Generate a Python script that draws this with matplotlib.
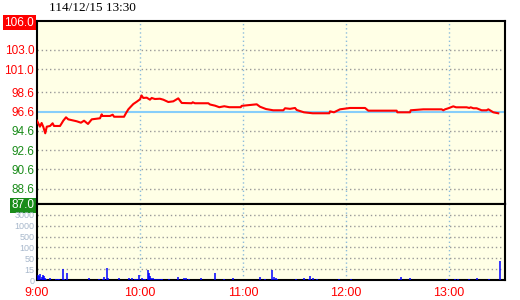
import matplotlib
matplotlib.use("Agg")
import matplotlib.pyplot as plt
import numpy as np

# minutes after 9:00 and price
price_min = [0, 1.7, 2.7, 3.7, 4.8, 5.7, 7.6, 9.1, 9.9, 13.4, 14.4, 15.3, 16.9, 18.2,
             23.1, 25.6, 27.4, 29.7, 31.9, 36.7, 37.7, 38.0, 42.5, 44.1, 44.9, 50.7,
             51.8, 53.2, 54.6, 56.1, 58.1, 60.0, 60.9, 61.9, 63.9, 65.8, 66.8, 68.7,
             71.6, 73.6, 76.5, 79.4, 82.3, 84.3, 90.1, 90.7, 92.0, 99.8, 100.8, 103.7,
             106.2, 109.1, 112.0, 118.7, 119.2, 124.1, 128.0, 129.9, 133.4, 137.6,
             143.5, 144.5, 147.4, 150.3, 151.3, 155.5, 160.6, 170.3, 170.7, 173.0,
             174.9, 176.5, 182.3, 191.1, 193.0, 209.5, 209.9, 217.3, 217.7, 225.0,
             235.7, 236.7, 237.7, 239.6, 242.5, 244.1, 250.3, 251.8, 252.6, 254.2,
             256.1, 259.0, 261.9, 262.9, 264.9, 265.8, 268.7]
price_val = [95.65, 95.03, 95.41, 94.99, 94.34, 95.03, 95.10, 95.38, 95.10, 95.10, 95.38,
             95.65, 96.00, 95.79, 95.59, 95.44, 95.65, 95.31, 95.79, 95.90, 96.31, 96.14,
             96.14, 96.27, 96.06, 96.06, 96.42, 96.83, 97.10, 97.38, 97.62, 97.87, 98.27,
             98.01, 98.04, 97.83, 98.01, 97.90, 97.93, 97.83, 97.59, 97.66, 97.97, 97.49,
             97.46, 97.56, 97.46, 97.46, 97.33, 97.21, 97.05, 97.15, 97.05, 97.05, 97.19,
             97.28, 97.35, 97.10, 96.86, 96.73, 96.73, 96.94, 96.88, 96.97, 96.76, 96.52,
             96.42, 96.42, 96.62, 96.52, 96.69, 96.83, 96.97, 96.97, 96.69, 96.69, 96.52,
             96.52, 96.73, 96.83, 96.83, 96.73, 96.83, 96.94, 97.14, 97.04, 97.04, 96.97,
             97.04, 96.94, 96.94, 96.73, 96.73, 96.83, 96.62, 96.52, 96.42]

vol_min = [0.6, 1.2, 1.9, 2.9, 3.5, 4.1, 4.7, 5.4, 7.7, 11.1, 12.2, 13.0, 15.3, 15.9,
           17.7, 30.1, 36.1, 38.2, 39.2, 40.6, 41.2, 47.8, 53.6, 55.4, 57.0, 58.0, 59.6,
           61.1, 62.3, 63.0, 64.5, 65.0, 65.6, 66.2, 67.4, 68.5, 69.8, 70.9, 72.0, 73.0,
           77.0, 82.1, 85.8, 86.8, 88.7, 95.6, 103.8, 109.0, 114.3, 129.9, 133.0, 137.1,
           137.9, 139.0, 139.6, 150.9, 155.6, 158.6, 159.2, 161.0, 162.9, 176.1, 182.7,
           210.9, 212.2, 217.5, 239.0, 243.5, 245.3, 251.8, 256.3, 263.5, 269.9]
vol_val = [7, 5, 8, 4, 7, 5, 3, 1, 3, 1, 1, 1, 16, 1, 10, 3, 1, 1, 4, 18, 3, 3, 3, 3, 1,
           1, 7, 3, 1, 1, 14, 10, 6, 3, 3, 1, 1, 1, 1, 1, 1, 4, 3, 3, 1, 3, 10, 1, 3, 4,
           1, 14, 4, 3, 1, 1, 3, 1, 6, 3, 1, 1, 1, 1, 4, 3, 1, 1, 1, 1, 3, 1, 41]

price_ticks = [106.0, 103.0, 101.0, 98.6, 96.6, 94.6, 92.6, 90.6, 88.6, 87.0]
ref_price = 96.6
vol_levels = [0, 15, 50, 100, 500, 1000, 3000]
time_ticks = [0, 60, 120, 180, 240]
time_labels = ["9:00", "10:00", "11:00", "12:00", "13:00"]

W, H = 520, 300
bg = "#ffffe6"
red = "#ff0000"
green = "#1a8c1a"
grid_blue = "#8cbcdc"

fig = plt.figure(figsize=(W / 100, H / 100), dpi=100)
fig.patch.set_facecolor("white")

L, R = 37 / W, 505 / W
ax = fig.add_axes([L, (H - 204) / H, R - L, (204 - 21) / H])
axv = fig.add_axes([L, (H - 280) / H, R - L, (280 - 204) / H], sharex=ax)

xmax = (505 - 37) / 103 * 60
for a in (ax, axv):
    a.set_facecolor(bg)
    a.set_xlim(0, xmax)
    for s in a.spines.values():
        s.set_color("black")
        s.set_linewidth(1.5)
    a.tick_params(length=0)
    for t in time_ticks[1:]:
        a.axvline(t, color=grid_blue, ls=(0, (1, 2)), lw=1, zorder=1)

# price panel
ax.set_ylim(87, 106)
for p in price_ticks[1:-1]:
    if p != ref_price:
        ax.axhline(p, color="#999999", ls=(0, (1, 2)), lw=1, zorder=1)
ax.axhline(ref_price, color="#87cefa", lw=1.5, zorder=2)
ax.plot(price_min, price_val, color=red, lw=1.5, zorder=3)

ax.set_yticks(price_ticks)
ax.set_yticklabels(["%.1f" % p for p in price_ticks], family="Liberation Sans", fontsize=8.5)
ax.tick_params(axis="y", pad=2)
for p, lab in zip(price_ticks, ax.get_yticklabels()):
    if p == price_ticks[0]:
        lab.set_color("white")
        lab.set_bbox(dict(facecolor=red, edgecolor="none", pad=1))
    elif p == price_ticks[-1]:
        lab.set_color("white")
        lab.set_bbox(dict(facecolor=green, edgecolor="none", pad=1))
    elif p >= ref_price:
        lab.set_color(red)
    else:
        lab.set_color(green)
ax.tick_params(axis="x", labelbottom=False)

# volume panel, uneven scale mapped onto even grid steps
idx = np.arange(len(vol_levels))
axv.set_ylim(0, len(vol_levels))
for i in idx[1:]:
    axv.axhline(i, color="#999999", ls=(0, (1, 2)), lw=1, zorder=1)
vol_pos = np.interp(vol_val, vol_levels, idx)
axv.vlines(vol_min, 0, vol_pos, color="#0000ff", lw=1.1, zorder=3)
axv.set_yticks(idx)
axv.set_yticklabels([str(v) for v in vol_levels], family="Liberation Sans",
                    fontsize=6.5, color="#a8b8cc")
axv.tick_params(axis="y", pad=2)
axv.set_xticks(time_ticks)
axv.set_xticklabels(time_labels, family="Liberation Sans", fontsize=9, color=red)
axv.tick_params(axis="x", pad=5)

fig.text(49 / W, 1 - 8 / H, "114/12/15 13:30", family="Liberation Serif",
         fontsize=9.5, va="center", ha="left")

fig.savefig("out.png", dpi=100, facecolor="white")
